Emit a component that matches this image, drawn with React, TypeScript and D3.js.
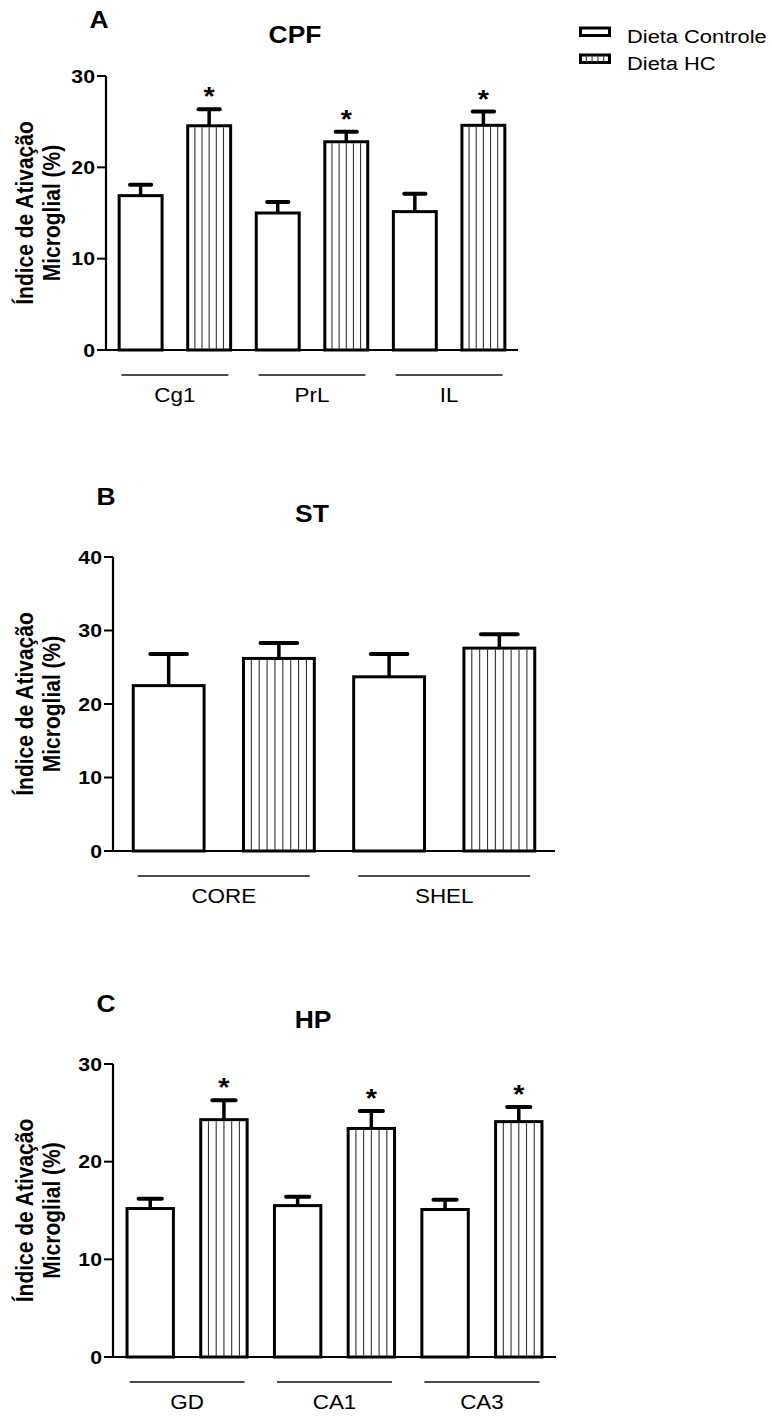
import React, { useEffect, useRef } from "react";
import * as d3 from "d3";

// panel A - CPF
const regionsA = ["Cg1", "PrL", "IL"];
const controlA = [16.9, 15.0, 15.15];
const controlErrA = [1.2, 1.2, 1.95];
const hcA = [24.55, 22.8, 24.6];
const hcErrA = [1.8, 1.1, 1.5];
const sigA = [true, true, true];
const ticksA = [0, 10, 20, 30];

// panel B - ST
const regionsB = ["CORE", "SHEL"];
const controlB = [22.5, 23.7];
const controlErrB = [4.3, 3.1];
const hcB = [26.2, 27.6];
const hcErrB = [2.1, 1.9];
const sigB = [false, false];
const ticksB = [0, 10, 20, 30, 40];

// panel C - HP
const regionsC = ["GD", "CA1", "CA3"];
const controlC = [15.2, 15.5, 15.1];
const controlErrC = [1.0, 0.9, 1.0];
const hcC = [24.3, 23.4, 24.1];
const hcErrC = [2.0, 1.8, 1.5];
const sigC = [true, true, true];
const ticksC = [0, 10, 20, 30];

const seriesNames = ["Dieta Controle", "Dieta HC"];
const yLabelLines = ["Índice de Ativação", "Microglial (%)"];

const FONT = "'Liberation Sans', Arial, sans-serif";
const SX = 1.15; // the original figure is a bit stretched horizontally

const panels = [
  {
    letter: "A", title: "CPF", regions: regionsA, control: controlA, controlErr: controlErrA,
    hc: hcA, hcErr: hcErrA, sig: sigA, ticks: ticksA,
    y0: 350, yTop: 76, axisX: 106, xEnd: 518, letterPos: [99, 28], titlePos: [295, 43],
  },
  {
    letter: "B", title: "ST", regions: regionsB, control: controlB, controlErr: controlErrB,
    hc: hcB, hcErr: hcErrB, sig: sigB, ticks: ticksB,
    y0: 851, yTop: 557, axisX: 113, xEnd: 555, letterPos: [106, 505], titlePos: [312, 522],
  },
  {
    letter: "C", title: "HP", regions: regionsC, control: controlC, controlErr: controlErrC,
    hc: hcC, hcErr: hcErrC, sig: sigC, ticks: ticksC,
    y0: 1357, yTop: 1064, axisX: 113, xEnd: 556, letterPos: [106, 1012], titlePos: [313, 1028],
  },
];

export default function App() {
  const svgRef = useRef<SVGSVGElement>(null);

  useEffect(() => {
    const svg = d3.select(svgRef.current);
    svg.selectAll("*").remove();
    panels.forEach((p) => drawPanel(svg, p));
    drawLegend(svg);
  }, []);

  // text helper, stretched in x like the source picture
  const addText = (g: any, str: string, x: number, y: number, size: number, weight: string, anchor: string) =>
    g.append("text")
      .attr("transform", `translate(${x},${y}) scale(${SX},1)`)
      .attr("font-family", FONT)
      .attr("font-size", size)
      .attr("font-weight", weight)
      .attr("text-anchor", anchor)
      .attr("fill", "#000")
      .text(str);

  const hatch = (g: any, x: number, y: number, w: number, h: number, spacing: number) => {
    const n = Math.max(0, Math.round(w / spacing) - 1);
    const step = w / (n + 1);
    for (let k = 1; k <= n; k++) {
      g.append("line")
        .attr("x1", x + k * step).attr("x2", x + k * step)
        .attr("y1", y).attr("y2", y + h)
        .attr("stroke", "#333").attr("stroke-width", 1.1);
    }
  };

  const drawPanel = (svg: any, p: any) => {
    const g = svg.append("g");
    const maxTick = p.ticks[p.ticks.length - 1];
    const y = d3.scaleLinear().domain([0, maxTick]).range([p.y0, p.yTop]);

    // flatten bars: group-major, control then HC
    const bars: any[] = [];
    p.regions.forEach((r: string, i: number) => {
      bars.push({ region: r, series: 0, value: p.control[i], err: p.controlErr[i], sig: false });
      bars.push({ region: r, series: 1, value: p.hc[i], err: p.hcErr[i], sig: p.sig[i] });
    });
    const x = d3.scaleBand<number>()
      .domain(bars.map((_, i) => i))
      .range([p.axisX, p.xEnd])
      .paddingInner(0.33)
      .paddingOuter(0.17);
    const bw = x.bandwidth();

    // error bars (drawn first, bar covers the lower part)
    bars.forEach((b, i) => {
      const cx = x(i)! + bw / 2;
      const capHalf = bw * 0.55 / 2 - 2;
      g.append("line")
        .attr("x1", cx).attr("x2", cx)
        .attr("y1", y(b.value)).attr("y2", y(b.value + b.err))
        .attr("stroke", "#000").attr("stroke-width", 3.5);
      g.append("line")
        .attr("x1", cx - capHalf).attr("x2", cx + capHalf)
        .attr("y1", y(b.value + b.err)).attr("y2", y(b.value + b.err))
        .attr("stroke", "#000").attr("stroke-width", 4).attr("stroke-linecap", "round");
      if (b.sig) addText(g, "*", cx, y(b.value + b.err) - 4, 25, "bold", "middle");
    });

    // bars
    bars.forEach((b, i) => {
      const bx = x(i)! + 1.5;
      const by = y(b.value);
      const bh = p.y0 - by;
      g.append("rect")
        .attr("x", bx).attr("y", by)
        .attr("width", bw - 3).attr("height", bh)
        .attr("fill", "#fff").attr("stroke", "#000").attr("stroke-width", 3);
      if (b.series === 1) hatch(g, bx, by + 1.5, bw - 3, bh - 1.5, 7.6);
    });

    // axes
    g.append("line")
      .attr("x1", p.axisX).attr("x2", p.axisX)
      .attr("y1", y(0)).attr("y2", y(maxTick))
      .attr("stroke", "#000").attr("stroke-width", 2.2);
    g.append("line")
      .attr("x1", p.axisX).attr("x2", p.xEnd)
      .attr("y1", y(0)).attr("y2", y(0))
      .attr("stroke", "#000").attr("stroke-width", 2.2);
    p.ticks.forEach((t: number) => {
      g.append("line")
        .attr("x1", p.axisX - 9).attr("x2", p.axisX)
        .attr("y1", y(t)).attr("y2", y(t))
        .attr("stroke", "#000").attr("stroke-width", 2);
      addText(g, String(t), p.axisX - 11, y(t) + 6.5, 18.5, "bold", "end");
    });

    // group underlines + labels
    const step = x.step();
    p.regions.forEach((r: string, gi: number) => {
      const cx = (x(2 * gi)! + x(2 * gi + 1)! + bw) / 2;
      const half = step * 0.78;
      g.append("line")
        .attr("x1", cx - half).attr("x2", cx + half)
        .attr("y1", p.y0 + 25).attr("y2", p.y0 + 25)
        .attr("stroke", "#111").attr("stroke-width", 1.3);
      addText(g, r, cx, p.y0 + 52, 19.5, "normal", "middle");
    });

    // y label, two lines rotated
    const cy = (p.y0 + p.yTop) / 2;
    [33, 60].forEach((lx, li) => {
      g.append("text")
        .attr("transform", `translate(${lx},${cy}) scale(${SX},1) rotate(-90)`)
        .attr("font-family", FONT)
        .attr("font-size", 21)
        .attr("font-weight", "bold")
        .attr("text-anchor", "middle")
        .text(yLabelLines[li]);
    });

    // panel letter + title
    addText(g, p.letter, p.letterPos[0], p.letterPos[1], 23, "bold", "middle");
    addText(g, p.title, p.titlePos[0], p.titlePos[1], 23, "bold", "middle");
  };

  const drawLegend = (svg: any) => {
    const g = svg.append("g");
    const rows = [28, 55];
    seriesNames.forEach((name, i) => {
      g.append("rect")
        .attr("x", 580.5).attr("y", rows[i])
        .attr("width", 29).attr("height", 7.5)
        .attr("fill", "#fff").attr("stroke", "#000").attr("stroke-width", 3);
      if (i === 1) hatch(g, 580.5, rows[i], 29, 7.5, 6);
      addText(g, name, 627, rows[i] + 14.5, 19, "normal", "start");
    });
  };

  return (
    <div>
      <svg
        ref={svgRef}
        width={772}
        height={1420}
        style={{ position: "absolute", left: 0, top: 0, background: "#fff" }}
      />
    </div>
  );
}
